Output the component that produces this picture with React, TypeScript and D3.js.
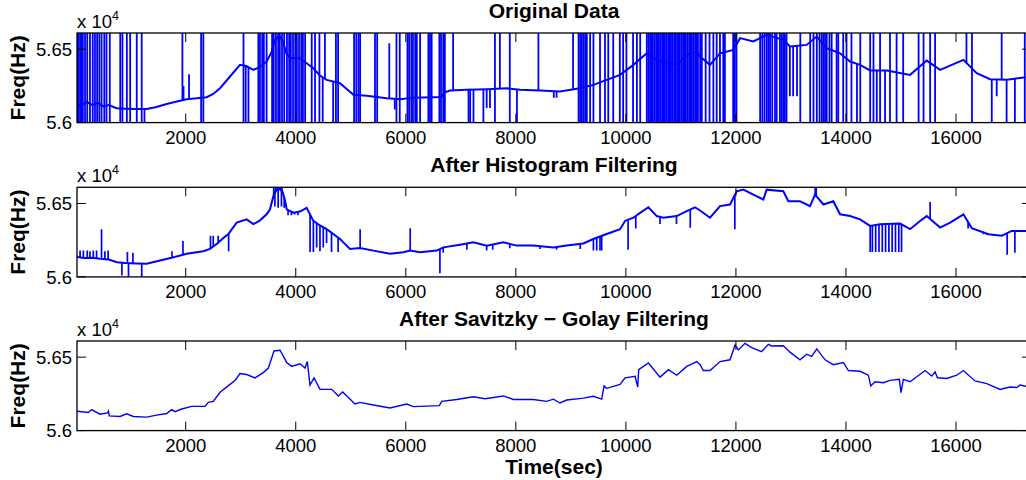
import * as d3 from 'd3'

// ---- data (time in sec, frequency in Hz) ----
const xTicks = [2000, 4000, 6000, 8000, 10000, 12000, 14000, 16000]
const yTicks = [56000, 56500]
const yTickLabels = ['5.6', '5.65']
const titles = ['Original Data', 'After Histogram Filtering', 'After Savitzky \u2212 Golay Filtering']

const origBase: [number, number][] = [
  [20, 56130], [100, 56115], [200, 56140], [300, 56120], [400, 56135], [500, 56110], [600, 56120],
  [745, 56098], [900, 56095], [1050, 56092], [1290, 56093], [1450, 56105], [1654, 56127], [1800, 56140],
  [2017, 56159], [2200, 56165], [2381, 56173], [2500, 56195], [2623, 56234], [2805, 56314], [2987, 56393],
  [3100, 56385], [3229, 56359], [3350, 56380], [3471, 56416], [3560, 56480], [3620, 56560], [3700, 56590],
  [3760, 56560], [3830, 56470], [3896, 56439], [4077, 56438], [4198, 56404], [4320, 56370], [4440, 56320],
  [4562, 56291], [4804, 56268], [5047, 56189], [5289, 56182], [5653, 56166], [5895, 56159], [6138, 56170],
  [6501, 56173], [6650, 56175], [6700, 56205], [6804, 56218], [7107, 56223], [7470, 56227], [7834, 56234],
  [8076, 56223], [8440, 56218], [8803, 56211], [9167, 56234], [9409, 56257], [9652, 56291], [9894, 56325],
  [10136, 56393], [10379, 56472], [10500, 56440], [10621, 56416], [10924, 56393], [11106, 56461],
  [11288, 56484], [11348, 56450], [11529, 56393], [11711, 56472], [11953, 56495], [12074, 56575],
  [12317, 56552], [12559, 56597], [12862, 56563], [12983, 56518], [13286, 56529], [13468, 56586],
  [13650, 56507], [13892, 56472], [14074, 56416], [14256, 56393], [14438, 56355], [14741, 56355],
  [15165, 56325], [15468, 56422], [15711, 56359], [16135, 56427], [16377, 56336], [16619, 56295],
  [16922, 56291], [17272, 56309],
]

// outliers that leave the axis range on both sides
const origFull = [
  30, 50, 80, 110, 130, 170, 210, 260, 310, 350, 390, 430, 470, 520, 560, 620, 810, 850, 930, 990, 1110, 1200,
  2280, 2320, 3050, 3320, 3350, 3390, 3420, 3470, 3570, 3600, 3640, 3680, 3710, 3750, 3790, 3840, 3880, 3910,
  3950, 3990, 4020, 4060, 4100, 4130, 4170, 4290, 4350, 4430, 4730, 4770, 5060, 5100, 5140, 5170, 5440, 5480,
  5830, 5890, 6030, 6060, 6100, 6130, 6170, 6200, 6260, 6410, 6440, 6470, 6610, 6640, 6680, 6710, 7620, 7890,
  9140, 9170, 9200, 9230, 9260, 9290, 9350, 9410, 9530, 9620, 9680, 9770, 9890, 9950, 10010, 10130, 10200,
  10260, 10380, 10410, 10440, 10470, 10490, 10520, 10550, 10580, 10600, 10630, 10660, 10690, 10710, 10740,
  10770, 10800, 10820, 10850, 10880, 10900, 10930, 10960, 10980, 11010, 11040, 11070, 11090, 11120, 11150,
  11180, 11200, 11230, 11260, 11290, 11310, 11350, 11380, 11450, 11520, 11590, 11650, 11710, 11770, 11800,
  11950, 11980, 12010, 12440, 12480, 12520, 12560, 12590, 12620, 12660, 12710, 12740, 12800, 12830, 12860,
  12890, 12920, 13170, 13350, 13410, 13470, 13520, 13560, 13590, 13620, 13650, 13700, 13740, 13830, 13860,
  13950, 14010, 14100, 14260, 14440, 14500, 14620, 14800, 14920, 15040, 15320, 15410, 15530, 15620, 16290,
  17250,
]
const origUp = [1940, 4530, 6860, 7710, 8410, 9040, 16190, 16830]
const origDown = [1250, 3090, 3140, 4490, 4680, 7140, 7170, 7230, 7410, 8020, 14200, 14560, 14710, 16650, 16920, 17070]
const origPartial: [number, number][] = [
  [1960, 56250], [2060, 56330], [5700, 56540], [5800, 56090], [7470, 56100], [7530, 56100], [8690, 56170],
  [8740, 56170], [12980, 56180], [13040, 56180], [13110, 56180], [16740, 56180],
]

const histBase: [number, number][] = [
  [20, 56135], [150, 56128], [300, 56130], [442, 56123], [600, 56118], [750, 56100], [900, 56095], [1100, 56092],
  [1290, 56090], [1533, 56112], [1745, 56130], [2017, 56157], [2320, 56175], [2441, 56191], [2563, 56224],
  [2700, 56270], [2775, 56291], [2926, 56370], [3108, 56392], [3229, 56359], [3350, 56385], [3471, 56426],
  [3532, 56460], [3600, 56560], [3650, 56590], [3700, 56600], [3760, 56580], [3805, 56520], [3835, 56460],
  [3956, 56437], [4077, 56445], [4198, 56470], [4320, 56381], [4440, 56350], [4562, 56325], [4804, 56258],
  [4986, 56190], [5168, 56197], [5410, 56179], [5713, 56157], [5955, 56168], [6077, 56179], [6259, 56168],
  [6562, 56179], [6683, 56201], [6986, 56219], [7228, 56235], [7470, 56213], [7773, 56235], [8016, 56213],
  [8318, 56213], [8682, 56201], [8925, 56213], [9227, 56228], [9409, 56258], [9652, 56292], [9894, 56325],
  [9985, 56381], [10136, 56403], [10258, 56436], [10409, 56474], [10561, 56414], [10682, 56403],
  [10924, 56414], [11106, 56448], [11257, 56474], [11348, 56452], [11529, 56403], [11711, 56482],
  [11893, 56493], [12014, 56583], [12135, 56594], [12317, 56560], [12498, 56527], [12559, 56594],
  [12862, 56583], [12952, 56515], [13165, 56515], [13347, 56482], [13438, 56560], [13590, 56493],
  [13771, 56515], [13892, 56426], [14074, 56414], [14256, 56392], [14438, 56347], [14619, 56359],
  [14983, 56363], [15165, 56325], [15347, 56381], [15468, 56414], [15711, 56336], [15893, 56370],
  [16135, 56426], [16286, 56332], [16589, 56291], [16832, 56280], [17014, 56313], [17272, 56313],
]
// spikes left in after histogram filtering: [time, tip value]
const histSpikes: [number, number][] = [
  [80, 56180], [140, 56180], [210, 56180], [260, 56175], [320, 56180], [380, 56180], [470, 56325], [530, 56175],
  [590, 56180], [840, 56010], [940, 56170], [960, 56000], [1040, 56165], [1200, 56000], [1750, 56175],
  [1950, 56245], [2450, 56280], [2500, 56280], [2590, 56280], [2780, 56175], [3600, 56650], [3620, 56480],
  [3630, 56650], [3660, 56650], [3680, 56470], [3690, 56650], [3720, 56650], [3740, 56480], [3750, 56650],
  [3790, 56470], [3860, 56420], [3920, 56420], [3980, 56425], [4040, 56420], [4260, 56170], [4320, 56170],
  [4380, 56200], [4440, 56175], [4500, 56200], [4560, 56230], [4650, 56170], [4770, 56170], [5170, 56325],
  [6080, 56332], [6620, 56025], [6680, 56165], [7110, 56185], [7470, 56180], [7580, 56185], [7890, 56195],
  [8440, 56190], [8740, 56185], [9170, 56190], [9410, 56180], [9470, 56180], [9530, 56180], [9560, 56180],
  [10040, 56185], [10180, 56330], [10620, 56360], [10920, 56360], [11170, 56335], [11980, 56325],
  [13440, 56610], [13460, 56620], [14440, 56170], [14480, 56170], [14540, 56170], [14600, 56170],
  [14660, 56170], [14720, 56170], [14780, 56170], [14840, 56170], [14900, 56170], [14960, 56170],
  [15010, 56170], [15530, 56510], [16220, 56330], [16500, 56290], [16560, 56285], [16620, 56285],
  [16680, 56280], [16740, 56280], [16930, 56150], [17070, 56165],
]

const sgSeries: [number, number][] = [
  [20, 56132], [230, 56123], [290, 56143], [440, 56112], [580, 56120], [594, 56132], [610, 56100], [806, 56096],
  [927, 56114], [1048, 56096], [1290, 56092], [1472, 56105], [1654, 56116], [1745, 56143], [1805, 56129],
  [1927, 56147], [2108, 56165], [2350, 56165], [2411, 56192], [2502, 56199], [2623, 56261], [2805, 56315],
  [2896, 56341], [2987, 56388], [3108, 56382], [3259, 56359], [3411, 56395], [3502, 56426], [3605, 56542],
  [3714, 56547], [3835, 56464], [3926, 56437], [4077, 56455], [4168, 56426], [4210, 56470], [4259, 56310],
  [4332, 56359], [4441, 56281], [4653, 56281], [4774, 56236], [4853, 56263], [5077, 56181], [5168, 56192],
  [5410, 56174], [5713, 56154], [6017, 56181], [6138, 56163], [6610, 56170], [6653, 56199], [6926, 56212],
  [7228, 56230], [7440, 56217], [7773, 56236], [7955, 56212], [8318, 56212], [8561, 56199], [8682, 56214],
  [8803, 56188], [8925, 56208], [9227, 56221], [9409, 56234], [9561, 56214], [9604, 56304], [9652, 56288],
  [9894, 56315], [9985, 56359], [10167, 56370], [10215, 56297], [10233, 56415], [10409, 56460],
  [10621, 56364], [10773, 56415], [10924, 56377], [11106, 56437], [11288, 56470], [11348, 56449],
  [11408, 56409], [11529, 56409], [11711, 56470], [11893, 56482], [11984, 56583], [12044, 56549],
  [12165, 56594], [12286, 56565], [12468, 56538], [12589, 56587], [12650, 56576], [12862, 56578],
  [12983, 56534], [13165, 56482], [13286, 56520], [13377, 56505], [13469, 56556], [13620, 56482],
  [13771, 56449], [13953, 56464], [14044, 56409], [14256, 56404], [14407, 56377], [14450, 56304],
  [14529, 56333], [14680, 56326], [14801, 56342], [14970, 56349], [15000, 56259], [15043, 56349],
  [15165, 56333], [15438, 56409], [15559, 56371], [15620, 56400], [15662, 56360], [15832, 56355],
  [16014, 56377], [16134, 56409], [16346, 56338], [16559, 56320], [16801, 56280], [16982, 56297],
  [17104, 56293], [17164, 56310], [17272, 56302],
]

const OFF_HIGH = 57000
const OFF_LOW = 55000

const W = 1026
const H = 480
const left = 77
const right = 1031
const panelTops = [33, 187.3, 341]
const panelH = 89.6
const blue = '#0000ff'
const font = '"Liberation Sans", Arial, Helvetica, sans-serif'

const x = d3.scaleLinear().domain([24, 17363]).range([left, right])

function Panel({ idx, children }: { idx: number; children: (y: d3.ScaleLinear<number, number>) => any }) {
  const top = panelTops[idx]
  const bottom = top + panelH
  const y = d3.scaleLinear().domain([56000, 56610]).range([bottom, top])
  return (
    <g>
      <defs>
        <clipPath id={`clip${idx}`}>
          <rect x={left} y={top} width={right - left} height={panelH} />
        </clipPath>
      </defs>
      <g clipPath={`url(#clip${idx})`}>{children(y)}</g>
      {/* frame */}
      <rect x={left} y={top} width={right - left} height={panelH} fill="none" stroke="#000" strokeWidth={1.3} />
      {xTicks.map((t) => (
        <g key={t}>
          <line x1={x(t)} x2={x(t)} y1={bottom} y2={bottom - 9} stroke="#000" strokeWidth={1} />
          <line x1={x(t)} x2={x(t)} y1={top} y2={top + 9} stroke="#000" strokeWidth={1} />
          <text x={x(t)} y={bottom + 21} textAnchor="middle" fontSize={18.5} fontFamily={font} fill="#000">
            {t}
          </text>
        </g>
      ))}
      {yTicks.map((v, i) => (
        <g key={v}>
          <line x1={left} x2={left + 9} y1={y(v)} y2={y(v)} stroke="#000" strokeWidth={1} />
          <line x1={right} x2={right - 9} y1={y(v)} y2={y(v)} stroke="#000" strokeWidth={1} />
          <text x={left - 5} y={y(v)} dy="0.36em" textAnchor="end" fontSize={18.5} fontFamily={font} fill="#000">
            {yTickLabels[i]}
          </text>
        </g>
      ))}
      <text x={left} y={top - 5} fontSize={18.5} fontFamily={font} fill="#000">
        x 10
      </text>
      <text x={left + 35} y={top - 13} fontSize={12.5} fontFamily={font} fill="#000">
        4
      </text>
      <text x={(left + right) / 2} y={top - 15} textAnchor="middle" fontSize={21} fontWeight="bold" fontFamily={font} fill="#000">
        {titles[idx]}
      </text>
      <text
        transform={`translate(25,${(top + bottom) / 2}) rotate(-90)`}
        textAnchor="middle"
        fontSize={21}
        fontWeight="bold"
        fontFamily={font}
        fill="#000"
      >
        Freq(Hz)
      </text>
    </g>
  )
}

function baseAt(base: [number, number][]) {
  return d3.scaleLinear().domain(base.map((d) => d[0])).range(base.map((d) => d[1])).clamp(true)
}

export default function App() {
  const line = (y: d3.ScaleLinear<number, number>) =>
    d3
      .line<[number, number]>()
      .x((d) => x(d[0]))
      .y((d) => y(d[1]))

  const origAt = baseAt(origBase)
  const histAt = baseAt(histBase)

  return (
    <svg
      width={W}
      height={H}
      viewBox={`0 0 ${W} ${H}`}
      style={{ position: 'fixed', left: 0, top: 0, background: '#fff' }}
    >
      <rect width={W} height={H} fill="#fff" />
      <Panel idx={0}>
        {(y) => (
          <g stroke={blue} strokeWidth={1.8} fill="none">
            <path d={line(y)(origBase) || ''} strokeWidth={2} />
            {origFull.map((t) => (
              <line key={`f${t}`} x1={x(t)} x2={x(t)} y1={y(OFF_HIGH)} y2={y(OFF_LOW)} />
            ))}
            {origUp.map((t) => (
              <line key={`u${t}`} x1={x(t)} x2={x(t)} y1={y(OFF_HIGH)} y2={y(origAt(t))} />
            ))}
            {origDown.map((t) => (
              <line key={`d${t}`} x1={x(t)} x2={x(t)} y1={y(origAt(t))} y2={y(OFF_LOW)} />
            ))}
            {origPartial.map(([t, v]) => (
              <line key={`p${t}`} x1={x(t)} x2={x(t)} y1={y(origAt(t))} y2={y(v)} />
            ))}
          </g>
        )}
      </Panel>
      <Panel idx={1}>
        {(y) => (
          <g stroke={blue} strokeWidth={1.7} fill="none">
            <path d={line(y)(histBase) || ''} strokeWidth={2} />
            {histSpikes.map(([t, v]) => (
              <line key={`s${t}`} x1={x(t)} x2={x(t)} y1={y(histAt(t))} y2={y(v)} />
            ))}
          </g>
        )}
      </Panel>
      <Panel idx={2}>
        {(y) => <path d={line(y)(sgSeries) || ''} stroke={blue} strokeWidth={1.4} fill="none" />}
      </Panel>
      <text x={554} y={474} textAnchor="middle" fontSize={21} fontWeight="bold" fontFamily={font} fill="#000">
        Time(sec)
      </text>
    </svg>
  )
}
